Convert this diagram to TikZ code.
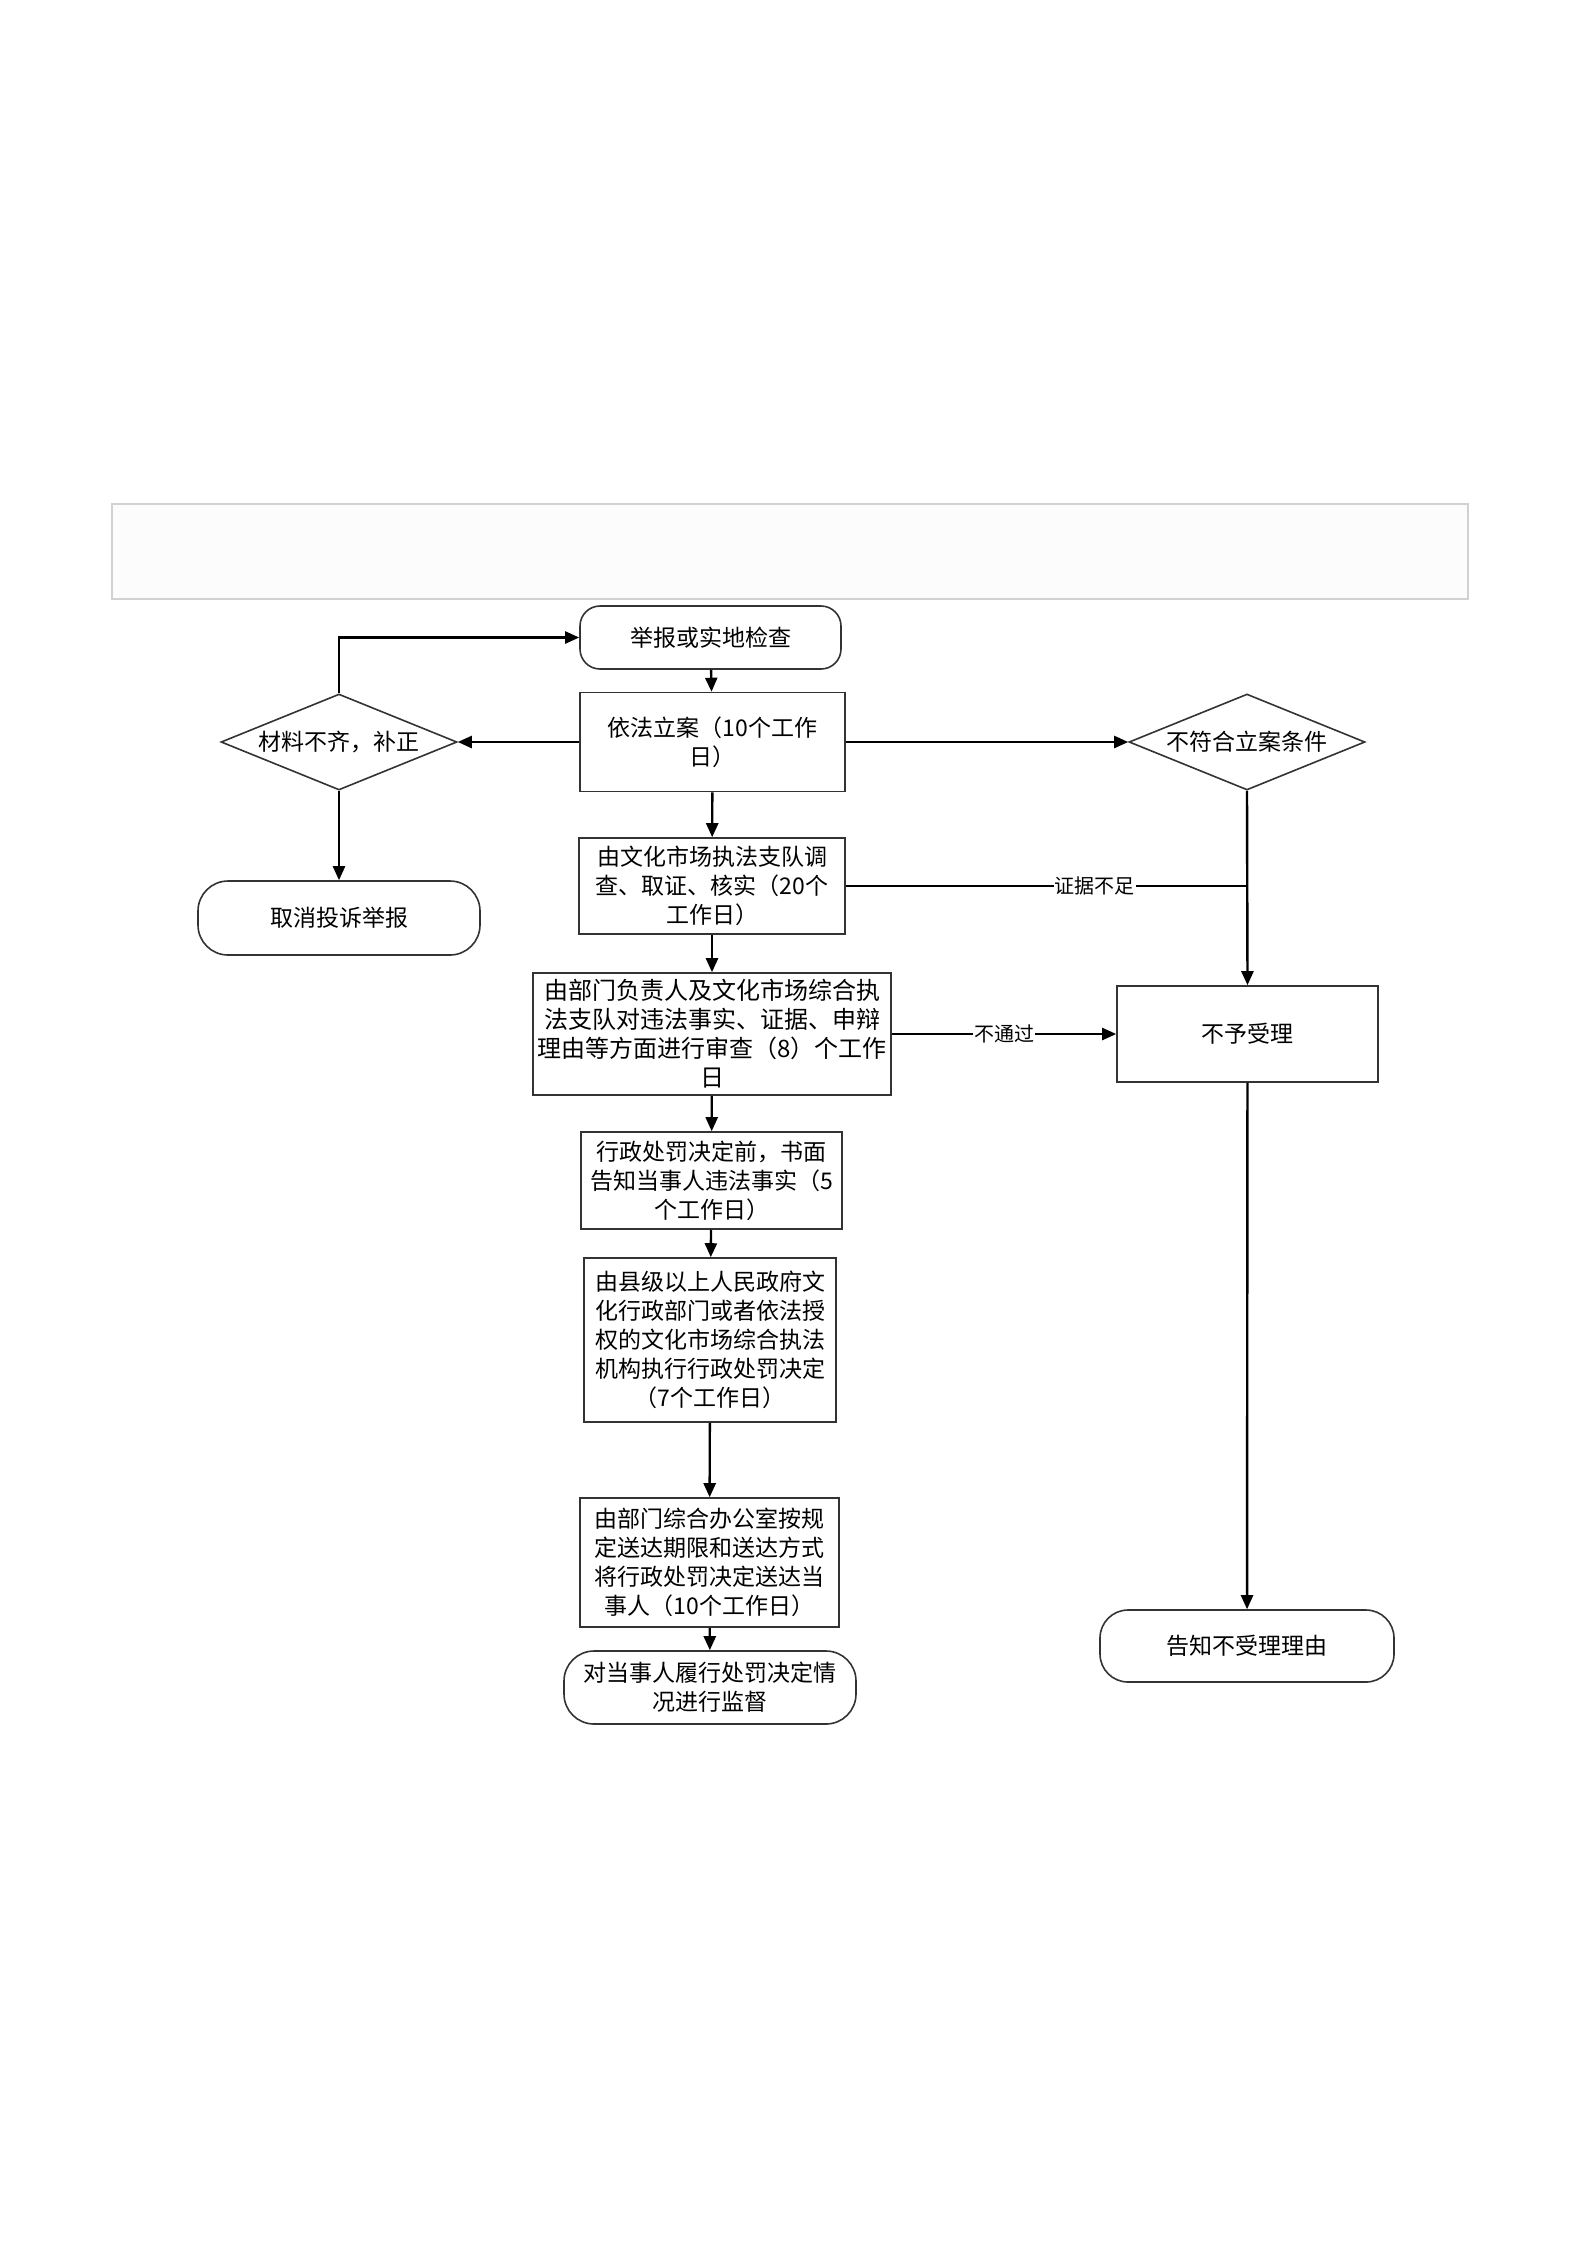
\documentclass[tikz,border=0pt]{standalone}
\usepackage{fontspec}
\setmainfont{Noto Sans CJK SC}
\usetikzlibrary{arrows.meta,shapes.geometric}
\begin{document}
\begin{tikzpicture}[x=0.5pt,y=-0.5pt,
  every node/.style={font=\fontsize{11.5}{14.5}\selectfont, align=center, inner sep=1pt},
  boxst/.style={draw=black!80, line width=0.8pt, rectangle},
  termst/.style={draw=black!80, line width=0.8pt, rectangle, rounded corners=10pt},
  decst/.style={draw=black!80, line width=0.8pt, diamond, aspect=2.46, inner sep=0pt},
  conn/.style={line width=1.2pt, -{Triangle[length=7pt,width=6pt]}},
  plain/.style={line width=1.2pt},
  lbl/.style={fill=white, font=\fontsize{10}{12}\selectfont, inner sep=0.5pt}]
\useasboundingbox (0,0) rectangle (1587,2245);
% header frame
\draw[black!18, line width=1.2pt, fill=black!1] (112,504) rectangle (1468,599);
% nodes
\node[termst, minimum width=130.5pt, minimum height=31.5pt] (start) at (710.5,637.5) {举报或实地检查};
\node[boxst, minimum width=132.5pt, minimum height=49.5pt] (lian) at (712.5,742) {依法立案（10个工作\\日）};
\node[decst, minimum width=118pt, minimum height=48pt] (cl) at (339,742) {材料不齐，补正};
\node[termst, rounded corners=15pt, minimum width=141pt, minimum height=37pt] (cancel) at (339,918) {取消投诉举报};
\node[decst, minimum width=118pt, minimum height=48pt] (bf) at (1247,742) {不符合立案条件};
\node[boxst, minimum width=133pt, minimum height=48pt] (dc) at (712,886) {由文化市场执法支队调\\查、取证、核实（20个\\工作日）};
\node[boxst, minimum width=179pt, minimum height=61pt, font=\fontsize{12}{14.5}\selectfont] (sc) at (712,1034) {由部门负责人及文化市场综合执\\法支队对违法事实、证据、申辩\\理由等方面进行审查（8）个工作\\日};
\node[boxst, minimum width=130.5pt, minimum height=48pt] (byl) at (1247.5,1034) {不予受理};
\node[termst, rounded corners=14pt, minimum width=147pt, minimum height=36pt] (gz) at (1247,1646) {告知不受理理由};
\node[boxst, minimum width=130.5pt, minimum height=48.5pt] (xz) at (711.5,1180.5) {行政处罚决定前，书面\\告知当事人违法事实（5\\个工作日）};
\node[boxst, minimum width=126pt, minimum height=82pt] (xj) at (710,1340) {由县级以上人民政府文\\化行政部门或者依法授\\权的文化市场综合执法\\机构执行行政处罚决定\\（7个工作日）};
\node[boxst, minimum width=129.5pt, minimum height=64.5pt] (bm) at (709.5,1562.5) {由部门综合办公室按规\\定送达期限和送达方式\\将行政处罚决定送达当\\事人（10个工作日）};
\node[termst, rounded corners=15pt, minimum width=146pt, minimum height=36.5pt] (js) at (710,1687.5) {对当事人履行处罚决定情\\况进行监督};
% connectors
\draw[conn] (start) -- (lian);
\draw[conn] (lian.west) -- (cl.east);
\draw[conn] (lian.east) -- (bf.west);
\draw[conn] (cl.north) |- (start.west);
\draw[conn] (cl.south) -- (cancel.north);
\draw[conn] (lian) -- (dc);
\draw[plain] (dc.east) -- (dc.east -| bf.south) node[lbl, pos=0.62] {证据不足};
\draw[conn] (bf.south) -- (byl.north);
\draw[conn] (dc) -- (sc);
\draw[conn] (sc.east) -- (byl.west) node[lbl, pos=0.5] {不通过};
\draw[conn] (sc) -- (xz);
\draw[conn] (xz) -- (xj);
\draw[conn] (xj) -- (bm);
\draw[conn] (bm) -- (js);
\draw[conn] (byl) -- (gz);
\end{tikzpicture}
\end{document}
